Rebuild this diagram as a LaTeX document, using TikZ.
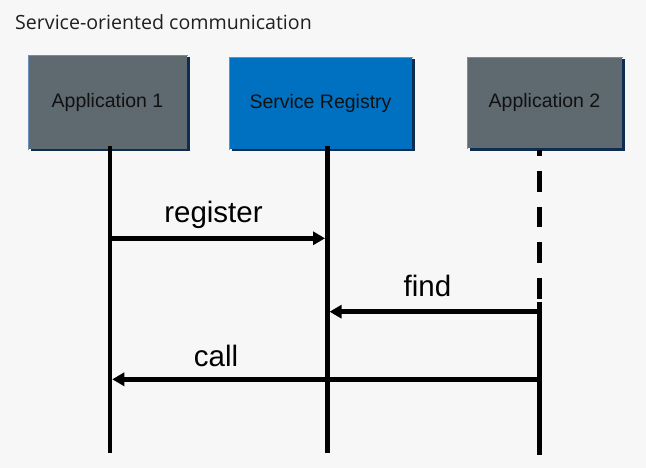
\documentclass[tikz,border=0pt]{standalone}
\usepackage{fontspec}
\setmainfont{Liberation Sans}
\newfontfamily\titlefont{Open Sans}
\usetikzlibrary{arrows.meta,shadows}

\definecolor{pagebg}{HTML}{F7F7F7}
\definecolor{appgray}{HTML}{5E6A70}
\definecolor{regblue}{HTML}{0070C0}
\definecolor{edgeblue}{HTML}{6A8FBF}
\definecolor{shadowblue}{HTML}{0F2D50}
\definecolor{boxtext}{HTML}{111111}

\tikzset{
  lanebox/.style={rectangle, inner sep=0pt, text=boxtext,
    font=\fontsize{19.5}{22}\selectfont,
    general shadow={fill=shadowblue, shadow xshift=2.5pt, shadow yshift=-2.5pt}},
  edgeline/.style={edgeblue, line width=1.6pt, line cap=rect},
  lifeline/.style={line width=4.5pt, line cap=butt},
  msg/.style={line width=4.5pt, -{Triangle[length=12pt,width=13pt]}, shorten >=2.25pt},
  msglabel/.style={anchor=base, inner sep=0pt, font=\fontsize{29.5}{33}\selectfont}
}

\begin{document}
\begin{tikzpicture}[x=1pt, y=-1pt]
  % page
  \fill[pagebg] (0,0) rectangle (646,468);
  \useasboundingbox (0,0) rectangle (646,468);

  % title
  \node[anchor=base west, inner sep=0pt, text=black!88, font=\titlefont\fontsize{19.6}{23}\selectfont]
    (title) at (15,30) {Service-oriented communication};

  % participant boxes
  \node[lanebox, fill=appgray, minimum width=159pt, minimum height=94pt]
    (app1) at (107.5,102) {Application 1};
  \node[lanebox, fill=regblue, minimum width=183pt, minimum height=92pt]
    (reg) at (320.5,103) {Service Registry};
  \node[lanebox, fill=appgray, minimum width=155pt, minimum height=91.5pt]
    (app2) at (544.5,102.75) {Application 2};

  % light top/left edges of the boxes
  \foreach \b in {app1,reg,app2}
    \draw[edgeline] ([xshift=0.8pt]\b.south west) -- ([xshift=0.8pt,yshift=-0.8pt]\b.north west)
                    -- ([yshift=-0.8pt]\b.north east);

  % lifeline ends
  \coordinate (l1top) at (110,146);
  \coordinate (l1bot) at (110,453);
  \coordinate (lrtop) at (327.3,146);
  \coordinate (lrbot) at (327.3,453);
  \coordinate (l2top) at (539.5,150);
  \coordinate (l2mid) at (539.5,301);
  \coordinate (l2sol) at (539.5,302);
  \coordinate (l2bot) at (539.5,455);

  % lifelines
  \draw[lifeline] (l1top) -- (l1bot);
  \draw[lifeline] (lrtop) -- (lrbot);
  \draw[lifeline, dash pattern=on 20.5pt off 15pt, dash phase=14pt] (l2top) -- (l2mid);
  \draw[lifeline] (l2sol) -- (l2bot);

  % messages
  \draw[msg] (l1top |- 0,238.3) coordinate (regS) -- (lrtop |- 0,238.3) coordinate (regE);
  \draw[msg] (l2top |- 0,311.7) coordinate (findS) -- (lrtop |- 0,311.7) coordinate (findE);
  \draw[msg] (l2top |- 0,379.3) coordinate (callS) -- (l1top |- 0,379.3) coordinate (callE);

  % message labels
  \node[msglabel] (regL) at (213.5,223) {register};
  \node[msglabel] (findL) at (427.5,296.7) {find};
  \node[msglabel] (callL) at (216,366.7) {call};
\end{tikzpicture}
\end{document}
